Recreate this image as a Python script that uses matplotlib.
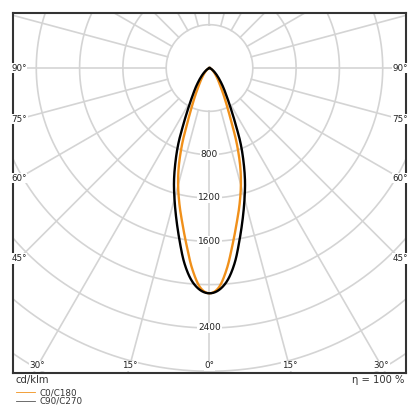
import numpy as np
import matplotlib
matplotlib.use("Agg")
import matplotlib.pyplot as plt
from matplotlib.lines import Line2D

# ---- data ----
angles = [0, 2.5, 5, 7.5, 10, 12.5, 15, 17.5, 20, 22.5, 25, 27.5, 30, 35, 40, 45, 50, 55, 60, 70, 80, 90]
c0_c180 = [2080, 2025, 1855, 1640, 1450, 1285, 1120, 940, 730, 510, 375, 285, 218, 142, 96, 66, 45, 30, 20, 8, 2, 0]
c90_c270 = [2080, 2050, 1960, 1805, 1605, 1420, 1250, 1090, 918, 748, 566, 435, 343, 228, 152, 101, 66, 41, 25, 10, 3, 0]
series_names = ["C0/C180", "C90/C270"]
ring_values = [400, 800, 1200, 1600, 2000, 2400, 2800, 3200, 3600, 4000]
ring_labels = [800, 1200, 1600, 2400]
spoke_angles = list(range(0, 360, 15))
edge_labels_side = [90, 75, 60, 45]
edge_labels_bottom = [30, 15, 0]
unit_text = "cd/klm"
eta_text = "η = 100 %"

colors = {"C0/C180": "#f0901a", "C90/C270": "#000000"}
grid_c = "#d4d4d4"

fig = plt.figure(figsize=(4.2, 4.2), dpi=100)
ax = fig.add_axes([13/420, 1-373/420, (406-13)/420, (373-13)/420])
XL, XR, YB, YT = -1815, 1815, -2816, 508
PX = 3630/393.0  # data units per pixel
ax.set_xlim(XL, XR)
ax.set_ylim(YB, YT)
ax.set_xticks([]); ax.set_yticks([])
for s in ax.spines.values():
    s.set_color("#333333"); s.set_linewidth(1.5)

t = np.linspace(0, 2*np.pi, 721)
for rv in ring_values:
    ax.plot(rv*np.sin(t), rv*np.cos(t), color=grid_c, lw=1.2, zorder=1)
for a in spoke_angles:
    ar = np.radians(a)
    ax.plot([400*np.sin(ar), 5000*np.sin(ar)], [-400*np.cos(ar), -5000*np.cos(ar)],
            color=grid_c, lw=1.2, zorder=1)

def catmull(px, py, n=20):
    P = np.column_stack([px, py])
    P = np.vstack([P[0], P, P[-1]])
    out = []
    for i in range(1, len(P)-2):
        p0, p1, p2, p3 = P[i-1], P[i], P[i+1], P[i+2]
        s = np.linspace(0, 1, n, endpoint=False)[:, None]
        seg = 0.5*((2*p1) + (-p0+p2)*s + (2*p0-5*p1+4*p2-p3)*s**2 + (-p0+3*p1-3*p2+p3)*s**3)
        out.append(seg)
    out.append(P[-2][None, :])
    out = np.vstack(out)
    return out[:, 0], out[:, 1]

def curve(vals):
    th = np.radians(np.array(angles))
    I = np.array(vals, dtype=float)
    thf = np.concatenate([-th[::-1], th[1:]])
    If = np.concatenate([I[::-1], I[1:]])
    return catmull(If*np.sin(thf), -If*np.cos(thf))

for name, vals in zip(series_names, [c0_c180, c90_c270]):
    x, y = curve(vals)
    ax.plot(x, y, color=colors[name], lw=1.7, zorder=3, solid_joinstyle='round')

bbox = dict(facecolor='white', edgecolor='none', pad=0.5)
for rv in ring_labels:
    ax.text(0, -rv, str(rv), ha='center', va='center', fontsize=6.5, color='#222222', bbox=bbox, zorder=4)

# angle labels centred where spokes meet a rectangle inset from the frame
xin = XR - 6*PX
yin = YB + 7*PX
for a in edge_labels_side:
    ar = np.radians(a)
    y = -xin/np.tan(ar) if a != 90 else 0
    for sgn in (-1, 1):
        ax.text(sgn*xin, y, f"{a}°", ha='center', va='center', fontsize=6.3,
                color='#222222', bbox=bbox, zorder=4)
for a in edge_labels_bottom:
    x = -yin*np.tan(np.radians(a))
    for sgn in ([1, -1] if a else [1]):
        ax.text(sgn*x, yin, f"{a}°", ha='center', va='center', fontsize=6.3,
                color='#222222', bbox=bbox, zorder=4)

fig.text(15/420, 1-380/420, unit_text, ha='left', va='center', fontsize=7.2, color='#333333')
fig.text(404/420, 1-380/420, eta_text, ha='right', va='center', fontsize=7.2, color='#333333')

handles = [Line2D([], [], color=colors["C0/C180"], lw=0.6),
           Line2D([], [], color="#555555", lw=0.6)]
fig.legend(handles, series_names, loc='upper left', bbox_to_anchor=(16/420, 1-388/420),
           frameon=False, fontsize=6.3, handlelength=2.2, handletextpad=0.45,
           labelspacing=0.0, borderpad=0, borderaxespad=0, labelcolor='#333333')

fig.savefig("out.png", dpi=100)
